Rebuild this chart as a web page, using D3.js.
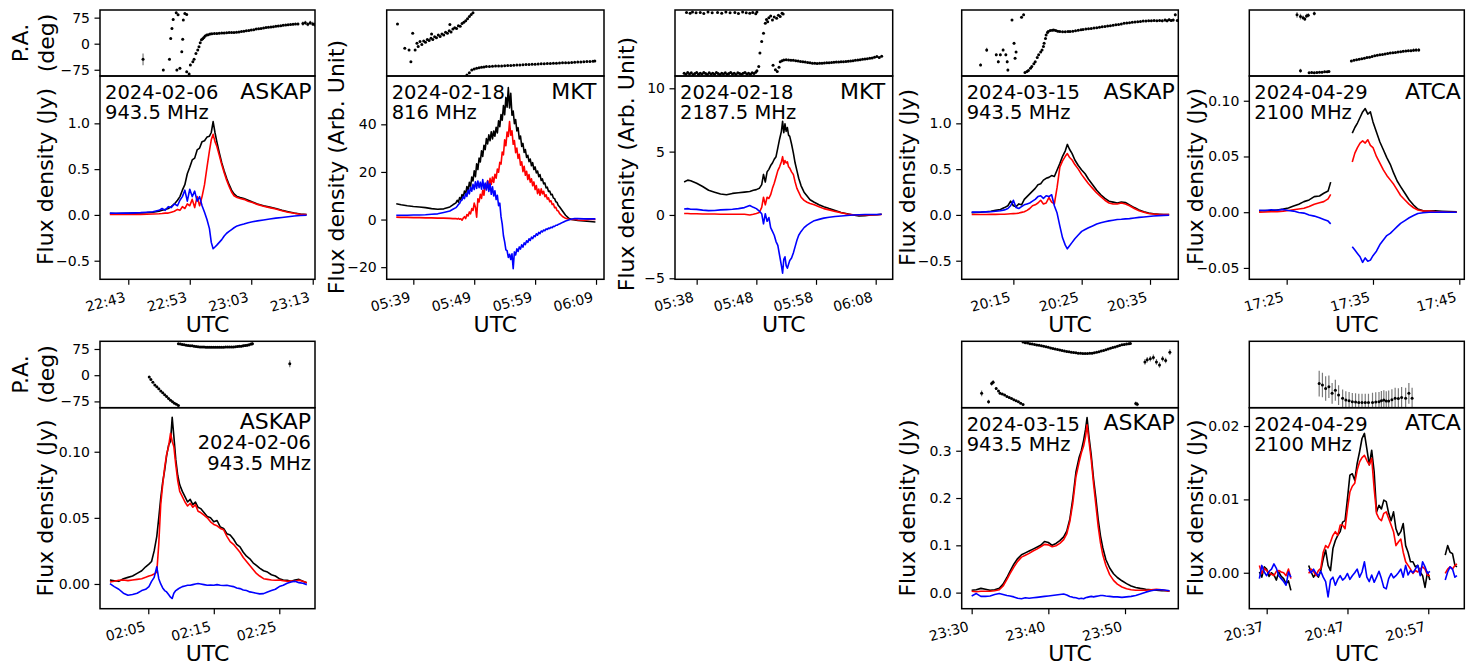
<!DOCTYPE html>
<html><head><meta charset="utf-8">
<script src="https://cdn.jsdelivr.net/npm/d3@7"></script>
<style>
body{margin:0;background:#fff}
svg{display:block}
text{font-family:"DejaVu Sans",sans-serif;fill:#000}
</style>
</head><body>
<svg id="c" width="1466" height="667"></svg>
<script>
// ---------------- DATA ----------------
const telescopes = ["ASKAP","MKT","MKT","ASKAP","ATCA","ASKAP","ASKAP","ATCA"];
const dates = ["2024-02-06","2024-02-18","2024-02-18","2024-03-15","2024-04-29","2024-02-06","2024-03-15","2024-04-29"];
const freqs = ["943.5 MHz","816 MHz","2187.5 MHz","943.5 MHz","2100 MHz","943.5 MHz","943.5 MHz","2100 MHz"];
const yLabels = ["Flux density (Jy)","Flux density (Arb. Unit)","Flux density (Arb. Unit)","Flux density (Jy)","Flux density (Jy)","Flux density (Jy)","Flux density (Jy)","Flux density (Jy)"];

const xTickLabels = [
  ["22:43","22:53","23:03","23:13"],
  ["05:39","05:49","05:59","06:09"],
  ["05:38","05:48","05:58","06:08"],
  ["20:15","20:25","20:35"],
  ["17:25","17:35","17:45"],
  ["02:05","02:15","02:25"],
  ["23:30","23:40","23:50"],
  ["20:37","20:47","20:57"]
];
const yTickValues = [
  [-0.5,0,0.5,1.0],[-20,0,20,40],[-5,0,5,10],[-0.5,0,0.5,1.0],
  [-0.05,0,0.05,0.10],[0,0.05,0.10],[0,0.1,0.2,0.3],[0,0.01,0.02]
];
const yTickLabels = [
  ["\u22120.5","0.0","0.5","1.0"],["\u221220","0","20","40"],["\u22125","0","5","10"],["\u22120.5","0.0","0.5","1.0"],
  ["\u22120.05","0.00","0.05","0.10"],["0.00","0.05","0.10"],["0.0","0.1","0.2","0.3"],["0.00","0.01","0.02"]
];
const paTickValues = [-75,0,75];
const paTickLabels = ["\u221275","0","75"];
const paDomain = [-93,97];
// x domains (minutes since 00:00 UTC) and y domains
const xDomains = [[1358.4,1393.37],[334.63,370.31],[334.37,370.85],[1207.44,1239.14],[1040.67,1065.58],[117.63,150.45],[1408.7,1436.95],[1234.85,1261.46]];
const yDomains = [[-0.703,1.517],[-25.1,60.3],[-5.08,10.97],[-0.703,1.517],[-0.0602,0.1222],[-0.0187,0.1333],[-0.034,0.391],[-0.0049,0.0225]];

// Panel 1: 2024-02-06 ASKAP
const t1 = [1360,1361,1362,1363,1364,1365,1366,1367,1368,1368.5,1369,1369.5,1370,1370.5,1371,1371.4,1371.8,1372.2,1372.6,1373,1373.4,1373.8,1374.2,1374.6,1375,1375.4,1375.8,1376.2,1376.5,1376.8,1377.1,1377.4,1377.8,1378.2,1378.6,1379,1379.4,1379.8,1380.2,1380.7,1381.2,1381.8,1382.5,1383.2,1384,1385,1386,1387,1388,1389,1390,1391,1392];
const I1 = [0.015,0.016,0.015,0.018,0.02,0.022,0.025,0.03,0.04,0.05,0.06,0.07,0.09,0.12,0.16,0.2,0.27,0.33,0.45,0.52,0.6,0.62,0.71,0.73,0.8,0.81,0.85,0.86,0.9,1.02,0.9,0.8,0.68,0.57,0.48,0.4,0.33,0.27,0.23,0.2,0.19,0.18,0.16,0.14,0.12,0.1,0.085,0.07,0.05,0.035,0.02,0.01,0.005];
const L1 = [0.005,0.004,0.005,0.005,0.006,0.006,0.008,0.01,0.012,0.015,0.02,0.02,0.03,0.04,0.06,0.05,0.09,0.07,0.12,0.1,0.17,0.08,0.2,0.1,0.2,0.33,0.52,0.7,0.82,0.88,0.8,0.75,0.65,0.55,0.46,0.38,0.31,0.25,0.21,0.19,0.18,0.17,0.15,0.135,0.115,0.095,0.08,0.065,0.045,0.03,0.018,0.008,0.003];
const V1 = [0.02,0.018,0.02,0.02,0.022,0.025,0.03,0.035,0.05,0.07,0.05,0.09,0.08,0.12,0.1,0.16,0.2,0.27,0.15,0.28,0.2,0.26,0.15,0.2,0.1,0.03,-0.05,-0.15,-0.3,-0.37,-0.35,-0.33,-0.3,-0.27,-0.23,-0.2,-0.18,-0.16,-0.14,-0.12,-0.11,-0.1,-0.085,-0.075,-0.065,-0.055,-0.045,-0.035,-0.028,-0.02,-0.012,-0.007,-0.003];
const pa1 = [[1365.4,-45,17],[1368.7,-76,3],[1369.7,-45,3],[1369.9,15,3],[1370.1,44,3],[1370.3,70,3],[1370.8,89,3],[1370.9,-76,3],[1371.1,83,3],[1371.4,-71,3],[1371.7,-23,3],[1371.85,13,3],[1371.95,68,3],[1372.2,87,3],[1372.5,84,3],[1372.5,-81,3],[1372.9,-87,3],[1373.1,-61,3],[1373.5,-52,3],[1373.7,-45,2],[1374.0,-28,2],[1374.3,-18,2],[1374.5,-9,2],[1374.7,3,2],[1374.9,11,2],[1375.1,14,2],[1375.3,18,2],[1375.5,22,2],[1375.75,25,1],[1376.0,26,1],[1376.3,28,1],[1376.6,28.5,1],[1377.0,29,1],[1377.4,29.5,1],[1377.8,30,1],[1378.2,30.5,1],[1378.6,31,1],[1379.0,31.5,1],[1379.4,32,1],[1379.8,32,1],[1380.2,32.5,1],[1380.6,33,1],[1381.0,34,1],[1381.4,35,1],[1381.8,36,1],[1382.2,37,1],[1382.6,38,1],[1383.0,39.5,1],[1383.4,40.5,1],[1383.8,42,1],[1384.2,43,1],[1384.6,44,1],[1385.0,45.5,1],[1385.4,46.5,1],[1385.8,47.5,1],[1386.2,48,1],[1386.6,49,1],[1387.0,50,2],[1387.4,51,2],[1387.8,52,2],[1388.2,53,2],[1388.6,54,2],[1389.0,54.5,2],[1389.4,55,2],[1389.8,56,3],[1390.2,56.5,3],[1390.6,57,3],[1391.4,58,6],[1391.8,60,6],[1392.2,56,6],[1392.6,60,6],[1393.0,57,6],[1393.3,55,6]];

// Panel 2: 2024-02-18 MKT 816 MHz
const t2 = [336.2,337,338,339,340,341,342,343,344,345,345.5,
 346.0,346.2,346.4,346.6,346.8,347.0,347.2,347.4,347.6,347.8,348.0,348.2,348.4,348.6,348.8,349.0,349.2,349.4,349.6,349.8,350.0,350.2,350.4,350.6,350.8,351.0,351.2,351.4,351.6,351.8,352.0,352.2,352.4,352.6,352.8,353.0,353.2,353.4,353.6,353.8,354.0,354.2,354.4,354.6,354.8,355.0,355.2,355.4,355.6,355.8,356.0,356.2,356.4,356.6,356.8,357.0,357.2,357.4,357.6,357.8,358.0,358.2,358.4,358.6,358.8,359.0,359.2,359.4,359.6,359.8,360.0,360.2,360.4,360.6,360.8,361.0,361.2,361.4,361.6,361.8,362.0,362.2,362.4,362.6,362.8,363.0,
 363.5,364,364.5,365,365.5,366,367,368,368.9];
const I2 = [6.6,6.2,5.8,5.5,5.3,5.0,4.6,4.3,4.5,5.3,6.2,
 7.0,8.1,7.3,9.2,8.4,10.5,9.3,12.0,10.8,13.9,12.1,15.6,13.8,17.9,16.2,20.5,18.0,23.4,21.0,25.8,24.2,28.9,26.5,31.2,29.4,34.0,31.8,35.6,33.1,36.9,33.9,37.2,35.0,38.8,36.4,41.5,39.0,44.1,41.7,47.9,44.0,51.3,47.2,55.5,46.9,53.0,43.8,45.6,40.3,42.0,37.2,38.6,33.9,35.1,30.7,32.0,28.2,29.4,26.1,27.0,24.3,25.4,22.6,23.9,21.0,22.1,19.6,20.4,18.0,18.9,16.4,17.1,15.0,15.4,13.3,13.6,11.8,12.0,10.4,10.6,9.0,8.8,7.5,7.2,5.9,5.4,
 3.6,1.8,0.6,0,-0.2,-0.4,-0.6,-0.8,-1];
const L2 = [1.0,0.9,0.9,0.8,0.8,0.7,0.7,0.6,0.6,0.5,0.4,
 0.4,0.2,0.5,0.1,0.3,-0.3,0.6,1.2,0.4,2.1,1.5,3.2,2.4,4.6,3.8,6.9,5.2,1.0,8.7,7.4,10.6,8.9,12.3,10.2,14.6,12.9,16.4,13.7,17.3,14.8,17.9,15.6,19.0,17.4,21.2,19.9,24.0,23.3,28.4,27.2,33.5,31.0,36.8,34.9,41.2,35.4,37.3,31.6,33.2,28.1,30.0,25.7,27.4,22.8,24.3,20.1,22.4,18.6,20.3,16.8,18.9,15.7,17.1,14.2,15.8,12.6,14.3,10.9,12.8,10.2,12.9,10.8,11.9,9.6,10.4,8.6,9.1,7.5,7.9,6.3,6.6,5.0,5.1,3.8,3.6,2.6,
 1.3,0.5,0.1,0,0.1,-0.2,-0.3,0,0];
const V2 = [1.8,1.8,1.8,1.9,1.9,2.0,2.2,2.4,3.0,3.6,4.3,
 5.0,5.6,6.3,6.8,7.9,8.2,9.6,8.8,10.9,9.7,12.4,10.8,13.6,11.9,14.8,12.6,15.9,13.1,16.2,13.4,15.7,12.8,16.8,12.9,15.3,12.4,16.1,11.8,15.0,10.6,13.8,9.9,12.1,8.4,10.2,5.8,6.9,1.2,-1.9,-6.8,-9.4,-12.7,-13.1,-15.9,-14.6,-16.8,-14.4,-20.6,-13.6,-14.9,-12.3,-13.4,-11.5,-12.4,-10.6,-11.6,-9.8,-10.5,-8.9,-9.6,-8.1,-8.8,-7.4,-8.0,-6.8,-7.2,-6.0,-6.6,-5.4,-5.9,-4.8,-5.2,-4.4,-4.7,-3.9,-4.2,-3.6,-3.8,-3.2,-3.4,-2.8,-2.9,-2.4,-2.4,-2.0,-1.9,
 -1.2,-0.6,-0.2,0.2,0.4,0.4,0.3,0.3,0.3];
const pa2 = [[336.4,57,2],[337.6,-13,2],[338.3,-18,2],[338.6,-52,2],[338.9,30,2],[339.3,-18,2],[339.6,1,2],[339.8,-8,2],[340.1,6,2],[340.4,-2,2],[340.7,8,2],[341.0,4,2],[341.3,12,2],[341.6,9,2],[341.9,16,2],[342.0,28,2],[342.2,12,2],[342.5,20,2],[342.8,17,2],[343.1,25,2],[343.4,21,2],[343.7,28,2],[344.0,25,2],[344.3,33,2],[344.6,30,2],[344.9,37,2],[345.0,55,2],[345.2,34,2],[345.5,42,2],[345.8,46,2],[346.1,44,2],[346.4,52,2],[346.7,50,2],[347.0,58,2],[347.3,62,2],[347.6,66,2],[347.9,72,2],[348.2,78,2],[348.5,84,2],[348.8,89,2],
 [347.8,-90,1],[348.2,-84,1],[348.6,-76,1],[349.0,-73,1],[349.4,-71,1],[349.8,-69,1],[350.2,-68,1],[350.6,-67,1],[351.0,-66,1],[351.5,-65.5,1],[352.0,-65,1],[352.5,-64.5,1],[353.0,-64,1],[353.5,-64,1],[354.0,-63.5,1],[354.5,-63,1],[355.0,-62.5,1],[355.5,-62,1],[356.0,-61.5,1],[356.5,-61,1],[357.0,-60.5,1],[357.5,-60,1],[358.0,-60,1],[358.5,-59.5,1],[359.0,-59,1],[359.5,-58.5,1],[360.0,-58,1],[360.5,-57.5,1],[361.0,-57,1],[361.5,-57,1],[362.0,-56.5,1],[362.5,-56,1],[363.0,-55.5,1],[363.5,-55,1],[364.0,-55,1],[364.5,-54.5,1],[365.0,-54,1],[365.5,-53.5,1],[366.0,-53,1],[366.5,-52.5,1],[367.0,-52,1],[367.5,-51.5,1],[368.0,-51,1],[368.5,-50.5,1],[368.8,-50,1]];

// Panel 3: 2024-02-18 MKT 2187.5 MHz
const t3 = [335.9,336.5,337,338,339,340,341,342,343,344,345,346,346.9,347.5,348,348.5,348.9,349.2,349.5,349.8,350.1,350.4,350.7,351.0,351.3,351.6,351.9,352.2,352.4,352.6,352.8,353.0,353.2,353.4,353.6,353.9,354.2,354.5,354.8,355.1,355.5,356,356.5,357,357.7,358.5,359.3,360.2,361.2,362.2,363.2,364.2,365.2,366.2,367.2,368.2,369];
const I3 = [2.6,2.75,2.7,2.5,2.25,1.95,1.8,1.65,1.6,1.7,1.75,1.8,1.85,1.95,2.0,2.1,2.4,3.2,2.6,3.4,3.6,3.9,4.1,4.4,4.6,5.3,6.0,6.6,7.4,6.5,7.2,6.6,6.9,6.3,6.2,5.6,4.9,4.1,3.5,2.9,2.3,1.8,1.5,1.2,1.0,0.8,0.65,0.5,0.35,0.2,0.1,0,-0.08,-0.05,0,0.02,0.05];
const L3 = [0.12,0.12,0.1,0.1,0.08,0.08,0.07,0.06,0.05,0.05,0.05,0.06,0.0,0.05,0.12,0.2,0.6,1.4,0.8,1.4,1.3,1.6,2.1,2.5,3.0,3.5,3.8,4.2,4.6,4.0,4.3,4.1,4.2,3.8,3.7,3.4,3.2,2.6,2.1,1.8,1.4,1.15,1.0,0.9,0.8,0.65,0.5,0.4,0.28,0.18,0.08,0.02,0,0,0,0.02,0.03];
const V3 = [0.47,0.5,0.45,0.44,0.38,0.34,0.35,0.4,0.42,0.45,0.5,0.58,0.75,0.6,0.5,0.3,0.1,-0.7,0.1,-0.5,-0.2,-1.0,-1.3,-1.6,-2.1,-2.4,-3.2,-4.0,-4.6,-3.5,-3.3,-4.0,-4.2,-3.9,-3.6,-3.4,-3.0,-2.5,-2.0,-1.6,-1.3,-1.0,-0.8,-0.65,-0.45,-0.35,-0.25,-0.18,-0.12,-0.08,-0.04,0,0.02,0.03,0.03,0.04,0.05];
const pa3 = [[336.3,90,1],[336.9,88,1],[337.3,91,1],[337.9,89,1],[338.6,90,1],[339.2,87,1],[339.9,91,1],[340.6,89,1],[341.5,90,1],[342.2,88,1],[342.9,91,1],[343.6,89,1],[344.4,90,1],[345.0,87,1],[345.7,91,1],[346.3,89,1],[346.9,88,1],[347.4,90,1],[347.9,86,1],[348.1,91,1],
 [335.9,-85,1],[336.2,-88,1],[336.5,-83,1],[336.8,-87,1],[337.1,-84,1],[337.4,-89,1],[337.7,-86,1],[338.0,-83,1],[338.3,-88,1],[338.6,-85,1],[338.9,-87,1],[339.2,-83,1],[339.5,-86,1],[339.8,-89,1],[340.1,-84,1],[340.4,-87,1],[340.7,-85,1],[341.0,-88,1],[341.3,-83,1],[341.6,-86,1],[341.9,-89,1],[342.2,-85,1],[342.5,-87,1],[342.8,-84,1],[343.1,-88,1],[343.4,-86,1],[343.7,-83,1],[344.0,-87,1],[344.3,-85,1],[344.6,-89,1],[344.9,-84,1],[345.2,-86,1],[345.5,-88,1],[345.8,-85,1],[346.1,-83,1],[346.4,-87,1],[346.7,-85,1],[347.0,-88,1],[347.3,-84,1],[347.6,-86,1],[347.9,-82,1],[348.1,-78,1],
 [348.4,-66,1],[348.6,-27,1],[348.9,6,1],[349.2,30,1],[349.5,59,1],[349.7,70,1],[349.9,63,1],[350.1,75,1],[350.4,80,1],[350.7,68,1],[351.0,77,1],[351.4,73,1],[351.7,82,1],[352.0,78,1],[352.3,88,1],[352.5,85.5,1],
 [350.8,-62,1],[351.2,-75,1],[351.5,-80,1],[351.8,-68,1],
 [352.0,-52,1],[352.3,-49,1],[352.6,-47,1],[353.0,-46,1],[353.4,-47,1],[353.8,-48,1],[354.2,-48,1],[354.6,-49,1],[355.0,-50,1],[355.4,-51,1],[355.8,-52,1],[356.2,-53,1],[356.6,-54,1],[357.0,-55,1],[357.4,-56,1],[357.8,-56.5,1],[358.2,-57,1],[358.6,-56.5,1],[359.0,-56,1],[359.4,-55.5,1],[359.8,-55,1],[360.2,-54.5,1],[360.6,-54,1],[361.0,-53.5,1],[361.4,-53,1],[361.8,-52.5,1],[362.2,-52,1],[362.6,-52,1],[363.0,-51,1],[363.4,-50.5,1],[363.8,-50,1],[364.2,-49,1],[364.6,-48,1],[365.0,-47,1],[365.4,-46,1],[365.8,-45,1],[366.2,-44,1],[366.6,-43,1],[367.0,-42,1],[367.4,-41,1],[367.8,-39,1],[368.2,-37,1],[368.6,-40,1],[369.0,-36,1]];

// Panel 4: 2024-03-15 ASKAP
const t4 = [1208.9,1209.5,1210.2,1211,1211.7,1212.4,1213.1,1213.7,1214.2,1214.6,1215.0,1215.4,1215.8,1216.2,1216.6,1217.0,1217.4,1217.8,1218.2,1218.6,1219.0,1219.4,1219.8,1220.2,1220.6,1221.0,1221.4,1221.8,1222.2,1222.6,1222.9,1223.2,1223.6,1224.0,1224.5,1225.0,1225.5,1226.0,1226.6,1227.2,1227.8,1228.4,1229.0,1229.6,1230.2,1230.8,1231.4,1232.0,1232.7,1233.4,1234.1,1234.8,1235.5,1236.3,1237.0,1237.8];
const I4 = [0.025,0.027,0.03,0.035,0.04,0.05,0.06,0.08,0.1,0.15,0.1,0.09,0.12,0.11,0.17,0.2,0.23,0.26,0.29,0.33,0.34,0.38,0.4,0.41,0.43,0.42,0.49,0.56,0.64,0.7,0.77,0.72,0.67,0.6,0.54,0.49,0.45,0.39,0.33,0.27,0.22,0.18,0.15,0.14,0.13,0.14,0.135,0.11,0.08,0.055,0.035,0.02,0.012,0.008,0.005,0.004];
const L4 = [0.004,0.004,0.005,0.005,0.006,0.006,0.007,0.008,0.01,0.012,0.014,0.016,0.02,0.028,0.035,0.05,0.07,0.1,0.11,0.13,0.16,0.12,0.13,0.19,0.14,0.12,0.3,0.52,0.59,0.64,0.67,0.63,0.6,0.55,0.5,0.44,0.39,0.34,0.29,0.24,0.2,0.16,0.13,0.12,0.12,0.13,0.12,0.1,0.07,0.045,0.03,0.016,0.01,0.006,0.004,0.004];
const V4 = [0.03,0.03,0.032,0.033,0.035,0.04,0.045,0.055,0.07,0.1,0.16,0.08,0.07,0.09,0.11,0.12,0.13,0.15,0.17,0.2,0.21,0.18,0.21,0.2,0.22,0.1,0.02,-0.12,-0.25,-0.33,-0.37,-0.34,-0.3,-0.26,-0.22,-0.18,-0.16,-0.14,-0.12,-0.1,-0.085,-0.075,-0.065,-0.058,-0.05,-0.047,-0.043,-0.04,-0.033,-0.027,-0.022,-0.017,-0.012,-0.008,-0.005,-0.004];
const pa4 = [[1210.2,-61,4],[1211.1,-18,6],[1212.5,-32,4],[1212.8,-52,4],[1213.1,-32,4],[1213.5,-18,4],[1213.9,-32,4],[1214.1,-52,4],[1214.2,-76,4],[1214.8,68,3],[1215.1,1,4],[1215.25,-42,3],[1215.4,-24,3],[1216.2,76,3],[1216.5,83,3],[1216.7,-83,2],[1217.0,-80,2],[1217.2,-77,2],[1217.5,-71,2],[1217.7,-66,2],[1218.0,-58,2],[1218.2,-52,2],[1218.5,-40,2],[1218.7,-32,2],[1219.0,-24,2],[1219.2,-18,2],[1219.4,-8,2],[1219.5,1,2],[1219.7,15,2],[1219.8,25,1],[1220.0,32,1],[1220.1,35,1],[1220.4,38,1],[1220.7,39,1],[1220.9,39.4,1],[1221.2,38,1],[1221.5,36,1],[1221.8,35,1],[1222.2,34.5,1],[1222.6,34.5,1],[1223.0,35,1],[1223.3,35,1],[1223.7,36,1],[1224.1,37,1],[1224.5,38.5,1],[1224.9,40,1],[1225.2,41,1],[1225.6,42,1],[1226.0,43,1],[1226.4,44,1],[1226.8,45,1],[1227.2,46,1],[1227.6,47,1],[1228.0,48.5,1],[1228.4,49.5,1],[1228.8,51,1],[1229.2,52,1],[1229.6,53,1],[1230.0,54.5,1],[1230.4,55.5,1],[1230.8,57,1],[1231.2,58.5,1],[1231.6,59.5,1],[1232.0,60.5,1],[1232.4,61.5,1],[1232.8,62.5,1],[1233.2,63,1],[1233.6,64,1],[1234.0,65,2],[1234.4,65.5,2],[1234.8,66,2],[1235.2,66,2],[1235.6,66.5,2],[1236.0,66,2],[1236.4,67,3],[1236.8,66,4],[1237.2,68,4],[1237.5,66,4],[1237.8,69,4],[1238.1,67,4],[1238.4,68,4],[1238.7,83,4],[1239.0,67,4]];

// Panel 5: 2024-04-29 ATCA (gap = null)
const t5 = [1041.8,1042.5,1043.2,1043.9,1044.6,1045.2,1045.8,1046.4,1047.0,1047.6,1048.2,1048.8,1049.3,1049.8,1050.1,1051.5,1052.6,1052.9,1053.2,1053.5,1053.8,1054.1,1054.4,1054.7,1055.0,1055.4,1055.8,1056.2,1056.6,1057.0,1057.4,1057.8,1058.2,1058.7,1059.2,1059.7,1060.2,1060.8,1061.5,1062.2,1063,1063.8,1064.7];
const I5 = [0.0012,0.0015,0.0013,0.002,0.0028,0.0038,0.0055,0.0072,0.0095,0.011,0.014,0.0145,0.017,0.019,0.027,null,0.071,0.076,0.08,0.085,0.09,0.093,0.088,0.09,0.081,0.072,0.063,0.056,0.049,0.043,0.035,0.028,0.023,0.017,0.011,0.0065,0.0028,0.0012,0.001,0.0012,0.0008,0.0005,0.0003];
const L5 = [0,0.0002,0.0004,0.0005,0.001,0.0016,0.0022,0.0028,0.0035,0.0052,0.0072,0.0085,0.0095,0.012,0.016,null,0.045,0.053,0.058,0.062,0.064,0.062,0.065,0.06,0.058,0.05,0.044,0.038,0.033,0.029,0.025,0.02,0.015,0.011,0.007,0.004,0.002,0.0012,0.001,0.0005,0.0003,0,0];
const V5 = [0.0018,0.0015,0.0022,0.0018,0.0025,0.0015,0.001,-0.0002,-0.0008,-0.0025,-0.0035,-0.005,-0.0065,-0.008,-0.0105,null,-0.031,-0.034,-0.037,-0.04,-0.045,-0.041,-0.044,-0.043,-0.039,-0.035,-0.029,-0.025,-0.021,-0.019,-0.016,-0.013,-0.01,-0.0075,-0.005,-0.003,-0.0012,-0.0005,0,0,0.0002,0,0];
const pa5 = [[1046.2,83,8],[1046.6,78,8],[1046.9,75,6],[1047.1,71,6],[1047.3,80,6],[1047.5,82,6],[1048.2,87,6],[1046.6,-78,6],[1047.6,-84,3],[1047.9,-83,3],[1048.2,-84,3],[1048.5,-83,3],[1048.8,-82,3],[1049.1,-82,3],[1049.4,-81,3],[1049.7,-81,3],[1049.9,-80,3],
 [1052.5,-50,2],[1052.8,-48,2],[1053.1,-46,2],[1053.4,-45,2],[1053.7,-43,2],[1054.0,-42,2],[1054.3,-40,2],[1054.6,-39,2],[1054.9,-37,2],[1055.2,-35,2],[1055.5,-33,2],[1055.8,-32,2],[1056.1,-31,2],[1056.4,-29.5,2],[1056.7,-28.5,2],[1057.0,-27,2],[1057.3,-26,2],[1057.6,-25,2],[1057.9,-24,2],[1058.2,-23,2],[1058.5,-22,3],[1058.8,-21,3],[1059.1,-20.5,3],[1059.4,-20,4],[1059.7,-19,5],[1060.0,-18.5,5],[1060.3,-18,5]];

// Panel 6: 2024-02-06 ASKAP (second burst)
const t6 = [119.15,119.8,120.5,121.2,121.9,122.6,123.3,124.0,124.6,125.1,125.5,125.9,126.3,126.6,126.9,127.2,127.5,127.8,128.1,128.4,128.65,128.9,129.2,129.5,129.8,130.2,130.6,131.0,131.4,131.8,132.2,132.6,133.0,133.5,134.0,134.5,135.0,135.5,136.0,136.5,137.0,137.5,138.0,138.5,139.0,139.5,140.0,140.5,141.0,141.5,142.0,142.6,143.2,143.8,144.4,145.0,145.6,146.2,146.8,147.4,148.0,148.6,149.2];
const I6 = [0.003,0.0025,0.002,0.004,0.005,0.006,0.008,0.01,0.013,0.015,0.017,0.025,0.036,0.05,0.065,0.077,0.086,0.097,0.105,0.108,0.126,0.112,0.094,0.082,0.075,0.07,0.066,0.062,0.064,0.06,0.062,0.058,0.057,0.054,0.051,0.05,0.047,0.048,0.043,0.042,0.038,0.037,0.034,0.03,0.028,0.024,0.021,0.019,0.016,0.014,0.012,0.01,0.009,0.007,0.006,0.004,0.003,0.0028,0.002,0.003,0.0035,0.002,0.001];
const L6 = [0.0015,0.002,0.0028,0.003,0.0025,0.003,0.0035,0.004,0.005,0.006,0.0066,0.0075,0.009,0.03,0.06,0.075,0.088,0.098,0.104,0.114,0.108,0.104,0.09,0.078,0.07,0.066,0.062,0.059,0.061,0.058,0.06,0.055,0.054,0.052,0.05,0.047,0.045,0.044,0.042,0.041,0.036,0.032,0.03,0.027,0.024,0.02,0.017,0.014,0.011,0.008,0.006,0.004,0.0035,0.003,0.0028,0.003,0.0025,0.002,0.0022,0.002,0.0028,0.002,0.001];
const V6 = [0.0003,-0.002,-0.004,-0.007,-0.0085,-0.008,-0.007,-0.005,-0.004,-0.002,0.002,0.005,0.013,0.004,0.0,-0.003,-0.005,-0.006,-0.008,-0.01,-0.011,-0.007,-0.005,-0.004,-0.003,-0.002,-0.0015,-0.001,-0.001,-0.0005,0,0.0003,0,-0.0005,-0.001,-0.0008,-0.001,-0.0005,-0.001,-0.0012,-0.001,-0.0015,-0.002,-0.003,-0.0035,-0.0045,-0.005,-0.006,-0.0065,-0.007,-0.0075,-0.0073,-0.006,-0.005,-0.004,-0.002,-0.001,0.0005,0.0015,0.002,0.001,0.0005,-0.0005];
const pa6 = [[125.15,-5,3],[125.4,-12,2],[125.7,-20,2],[126.0,-28,2],[126.3,-33,1],[126.6,-39,1],[126.9,-45,1],[127.2,-50,1],[127.5,-56,1],[127.8,-61,1],[128.1,-67,1],[128.4,-72,1],[128.7,-76,1],[129.0,-80,1],[129.3,-83,1],[129.6,-87,1],
 [129.6,90,1],[129.9,89,1],[130.2,88,1],[130.5,87,1],[130.8,86,1],[131.1,85,1],[131.4,84.5,1],[131.7,84,1],[132.0,83,1],[132.3,82,1],[132.6,81.5,1],[132.9,81,1],[133.2,80.5,1],[133.5,80.5,1],[133.8,80,1],[134.1,80,1],[134.4,80,1],[134.7,80,1],[135.0,80,1],[135.3,80,1],[135.6,80,1],[135.9,80,1],[136.2,80,1],[136.5,80,1],[136.8,80.5,1],[137.1,80.5,1],[137.4,80.5,1],[137.7,81,1],[138.0,81,2],[138.3,81.5,2],[138.6,82,2],[138.9,82.5,3],[139.2,83,3],[139.5,84,4],[139.8,85,4],[140.1,86,4],[140.4,87,4],[140.7,89,4],[140.9,90,4],
 [146.6,33,10]];

// Panel 7: 2024-03-15 ASKAP (second burst)
const t7 = [1410.0,1410.6,1411.2,1411.8,1412.4,1413.0,1413.6,1414.1,1414.6,1415.0,1415.5,1416.0,1416.5,1417.0,1417.5,1418.0,1418.5,1419.0,1419.5,1420.0,1420.5,1421.0,1421.5,1422.0,1422.4,1422.8,1423.2,1423.6,1424.0,1424.3,1424.6,1424.85,1425.05,1425.3,1425.6,1425.9,1426.2,1426.5,1426.8,1427.1,1427.5,1428.0,1428.5,1429.0,1429.6,1430.2,1430.8,1431.4,1432.0,1432.7,1433.4,1434.1,1434.8,1435.4,1435.8];
const I7 = [0.005,0.006,0.009,0.007,0.005,0.006,0.009,0.018,0.032,0.045,0.06,0.072,0.08,0.084,0.088,0.092,0.096,0.1,0.108,0.106,0.1,0.104,0.11,0.118,0.13,0.155,0.2,0.255,0.285,0.3,0.322,0.345,0.37,0.33,0.29,0.24,0.2,0.155,0.12,0.095,0.07,0.052,0.04,0.032,0.025,0.019,0.014,0.011,0.009,0.007,0.006,0.005,0.004,0.004,0.003];
const L7 = [0.003,0.002,0.003,0.003,0.003,0.004,0.006,0.014,0.028,0.04,0.054,0.066,0.075,0.079,0.083,0.088,0.092,0.097,0.102,0.101,0.097,0.099,0.104,0.112,0.124,0.15,0.19,0.245,0.275,0.295,0.31,0.33,0.355,0.32,0.28,0.23,0.185,0.14,0.105,0.08,0.058,0.038,0.026,0.018,0.012,0.008,0.006,0.005,0.005,0.005,0.006,0.007,0.006,0.004,0.003];
const V7 = [-0.007,-0.002,-0.008,-0.008,-0.007,-0.004,-0.002,-0.004,-0.006,-0.007,-0.009,-0.012,-0.013,-0.011,-0.012,-0.011,-0.01,-0.009,-0.008,-0.007,-0.006,-0.005,-0.004,-0.003,-0.005,-0.008,-0.01,-0.011,-0.013,-0.012,-0.013,-0.011,-0.01,-0.009,-0.008,-0.009,-0.008,-0.007,-0.006,-0.006,-0.007,-0.008,-0.009,-0.009,-0.01,-0.009,-0.008,-0.006,-0.003,0.001,0.004,0.006,0.006,0.005,0.004];
const pa7 = [[1411.3,-52,8],[1412.2,-76,6],[1412.6,-24,6],[1412.8,-20,6],[1413.2,-38,4],[1413.5,-45,3],[1413.7,-52,3],
 [1414.0,-54,1],[1414.3,-57,1],[1414.6,-61,1],[1414.9,-64,1],[1415.2,-67,1],[1415.5,-70,1],[1415.8,-73,1],[1416.1,-76,1],[1416.4,-80,1],[1416.7,-84,1],
 [1416.7,95,1],[1417.0,93,1],[1417.3,92,1],[1417.6,90,1],[1417.9,89,1],[1418.2,88,1],[1418.5,86.5,1],[1418.8,85.5,1],[1419.1,84.5,1],[1419.4,83,1],[1419.7,81.5,1],[1420.0,80,1],[1420.3,78,1],[1420.6,76.5,1],[1420.9,75,1],[1421.2,73.5,1],[1421.5,72,1],[1421.8,71,1],[1422.1,69.5,1],[1422.4,68,1],[1422.7,67,1],[1423.0,66,1],[1423.3,65,1],[1423.6,64,1],[1423.9,63,1],[1424.2,62.5,1],[1424.5,62,1],[1424.8,62,1],[1425.1,62,1],[1425.4,62.5,1],[1425.7,63,1],[1426.0,64,1],[1426.3,65.5,1],[1426.6,67,1],[1426.9,69,1],[1427.2,71,1],[1427.5,73,1],[1427.8,75,1],[1428.1,77,1],[1428.4,79,1],[1428.7,81,2],[1429.0,83,2],[1429.3,85,2],[1429.6,87,2],[1429.9,88,3],[1430.2,89,3],[1430.5,90,3],[1430.7,91,3],
 [1431.4,-81,6],[1431.6,-83,6],[1432.6,38,8],[1432.9,44,8],[1433.3,47,8],[1433.7,51,8],[1434.1,38,8],[1434.5,29,8],[1434.9,47,8],[1435.3,42,8],[1435.85,66,8]];

// Panel 8: 2024-04-29 ATCA (second burst; gaps = null)
const t8 = [1236.1,1236.4,1236.7,1237.0,1237.3,1237.6,1237.9,1238.2,1238.5,1238.8,1239.1,1239.4,1239.7,1240.0,1241,
 1242.2,1242.5,1242.8,1243.1,1243.4,1243.7,1244.0,1244.3,1244.6,1244.9,1245.2,1245.5,1245.8,1246.1,1246.4,1246.7,1247.0,1247.3,1247.6,1247.9,1248.2,1248.5,1248.8,1249.1,1249.4,1249.7,1250.0,1250.3,1250.6,1250.9,1251.2,1251.5,1251.8,1252.1,1252.4,1252.7,1253.0,1253.3,1253.6,1253.9,1254.2,1254.5,1254.8,1255.1,1255.4,1255.7,1256.0,1256.3,1256.6,1256.9,1257.2,1258,
 1259.1,1259.4,1259.7,1260.0,1260.3,1260.55];
const I8 = [0.0001,-0.0006,0.0008,0.0005,-0.0005,0.0000,-0.0003,-0.001,0.0001,-0.0005,-0.0008,-0.0015,-0.0011,-0.0024,null,
 0.0010,0.0001,-0.0006,-0.0001,-0.0006,0.0003,0.0019,0.0031,0.0010,0.0003,0.0033,0.0044,0.0051,0.0056,0.0069,0.0071,0.0101,0.0133,0.0135,0.0126,0.0149,0.0165,0.0183,0.0190,0.0169,0.0147,0.0167,0.0138,0.0083,0.0092,0.0087,0.0099,0.0097,0.0081,0.0071,0.0083,0.0060,0.0051,0.0056,0.0067,0.0037,0.0028,0.0015,0.0015,0.0008,0.0010,0.0001,-0.0004,-0.0020,0.0001,-0.0010,null,
 0.0024,0.0037,0.0028,0.0026,0.0010,0.0008];
const L8 = [0.0010,-0.0001,0.0006,0.0003,0.0000,-0.0002,-0.0004,0.0002,0.0003,0.0001,0.0000,-0.0004,0.0005,-0.0008,null,
 -0.0001,0.0005,0.0002,-0.0004,0.0003,0.0006,0.0028,0.0037,0.0034,0.0042,0.0051,0.0056,0.0051,0.0065,0.0065,0.0060,0.0087,0.0110,0.0118,0.0122,0.0140,0.0151,0.0157,0.0160,0.0153,0.0147,0.0156,0.0115,0.0081,0.0074,0.0071,0.0081,0.0083,0.0074,0.0065,0.0056,0.0037,0.0042,0.0046,0.0028,0.0015,0.0010,0.0005,-0.0001,0.0003,0.0001,0.0005,0.0008,0.0005,-0.0003,-0.0004,null,
 -0.0001,0.0005,0.0008,0.0005,0.0010,0.0012];
const V8 = [-0.0008,0.0010,0.0001,-0.0004,0.0002,0.0005,0.0012,0.0006,-0.0004,-0.0008,-0.0012,-0.0017,0.0001,-0.0006,null,
 0.0005,0,0.0005,-0.0001,-0.0004,0.0002,-0.0006,-0.0012,-0.0033,-0.0010,-0.0006,-0.0017,-0.0009,-0.0004,-0.0010,-0.0007,-0.0001,-0.0009,-0.0004,0,0.0005,-0.0006,0.0001,0.0015,-0.0006,-0.0012,-0.0003,-0.0013,-0.0006,0.0002,-0.0008,-0.0020,-0.0022,-0.0008,-0.0001,-0.0007,-0.0004,0,0.0005,-0.0006,0.0010,-0.0003,0.0003,0,0.0005,0.0010,-0.0004,0.0015,0.0008,-0.0001,0.0002,null,
 -0.0010,0.0001,0.0008,0.0005,-0.0006,-0.0004];
const pa8 = [[1243.5,-24,37],[1243.9,-28,35],[1244.3,-38,35],[1244.7,-33,32],[1245.1,-52,30],[1245.5,-43,30],[1245.9,-57,28],[1246.4,-66,25],[1246.8,-71,25],[1247.2,-73,25],[1247.6,-76,25],[1248.0,-77,25],[1248.4,-78,25],[1248.8,-78,25],[1249.2,-78,25],[1249.6,-78,25],[1250.1,-78,28],[1250.5,-77,28],[1250.9,-76,28],[1251.2,-73,28],[1251.5,-71,28],[1251.8,-74,28],[1252.1,-74,30],[1252.5,-70,30],[1252.9,-66,30],[1253.3,-67,30],[1253.7,-64,30],[1254.2,-66,30],[1254.6,-52,30],[1255.0,-66,30]];

const series = [
  {t:t1,I:I1,L:L1,V:V1,pa:pa1},{t:t2,I:I2,L:L2,V:V2,pa:pa2},{t:t3,I:I3,L:L3,V:V3,pa:pa3},{t:t4,I:I4,L:L4,V:V4,pa:pa4},
  {t:t5,I:I5,L:L5,V:V5,pa:pa5},{t:t6,I:I6,L:L6,V:V6,pa:pa6},{t:t7,I:I7,L:L7,V:V7,pa:pa7},{t:t8,I:I8,L:L8,V:V8,pa:pa8}
];

// ---------------- LAYOUT ----------------
const layout = [
  {L:100,R:315,paT:10,T:76,B:279.3,ylx:52.5,yly:176.5,paLab:true,ann:"split",teleDx:3.5},
  {L:386.7,R:604,paT:10,T:76,B:279.3,ylx:343.5,yly:167,paLab:false,ann:"split",teleDx:7.5},
  {L:675,R:892.7,paT:10,T:76,B:279.3,ylx:633.5,yly:164,paLab:false,ann:"split",teleDx:7.5},
  {L:961.7,R:1178.3,paT:10,T:76,B:279.3,ylx:914.5,yly:177.5,paLab:false,ann:"split",teleDx:3.5},
  {L:1249.3,R:1464.3,paT:10,T:76,B:279.3,ylx:1202.5,yly:176.5,paLab:false,ann:"split",teleDx:3.5},
  {L:100,R:315,paT:341.3,T:407.7,B:608.7,ylx:52.5,yly:508,paLab:true,ann:"stack",teleDx:4},
  {L:961.7,R:1178.3,paT:341.3,T:407.7,B:608.7,ylx:914.5,yly:508,paLab:false,ann:"split",teleDx:3.5},
  {L:1249.3,R:1464.3,paT:341.3,T:407.7,B:608.7,ylx:1202.5,yly:508,paLab:false,ann:"split",teleDx:3.5}
];

const svg = d3.select("#c");
const defs = svg.append("defs");
const TICKFS = 14, LABFS = 22, DATEFS = 19.5, TELEFS = 22;
const toMin = s => { const [h,m] = s.split(":").map(Number); return h*60+m; };

layout.forEach((p,k) => {
  const s = series[k];
  const x = d3.scaleLinear().domain(xDomains[k]).range([p.L,p.R]);
  const y = d3.scaleLinear().domain(yDomains[k]).range([p.B,p.T]);
  const yp = d3.scaleLinear().domain(paDomain).range([p.T,p.paT]);
  const g = svg.append("g");

  defs.append("clipPath").attr("id","cm"+k).append("rect")
    .attr("x",p.L).attr("y",p.T).attr("width",p.R-p.L).attr("height",p.B-p.T);
  defs.append("clipPath").attr("id","cp"+k).append("rect")
    .attr("x",p.L).attr("y",p.paT).attr("width",p.R-p.L).attr("height",p.T-p.paT);

  // flux curves: I (black), L (red), V (blue)
  const rows = s.t.map((t,i) => ({t, I:s.I[i], L:s.L[i], V:s.V[i]}));
  const cg = g.append("g").attr("clip-path",`url(#cm${k})`);
  [["I","#000000"],["L","#ff0000"],["V","#0000ff"]].forEach(([key,col]) => {
    const line = d3.line().defined(d => d[key] != null).x(d => x(d.t)).y(d => y(d[key]));
    cg.append("path").attr("d", line(rows)).attr("fill","none")
      .attr("stroke",col).attr("stroke-width",1.6).attr("stroke-linejoin","round");
  });

  // PA points with error bars
  const pg = g.append("g").attr("clip-path",`url(#cp${k})`);
  pg.selectAll("line.eb").data(s.pa).join("line").attr("class","eb")
    .attr("x1",d=>x(d[0])).attr("x2",d=>x(d[0]))
    .attr("y1",d=>yp(d[1]-d[2])).attr("y2",d=>yp(d[1]+d[2]))
    .attr("stroke","#7a7a7a").attr("stroke-width",1.2);
  pg.selectAll("circle").data(s.pa).join("circle")
    .attr("cx",d=>x(d[0])).attr("cy",d=>yp(d[1])).attr("r",1.5).attr("fill","#000");

  // frames
  g.append("rect").attr("x",p.L).attr("y",p.paT).attr("width",p.R-p.L).attr("height",p.T-p.paT)
    .attr("fill","none").attr("stroke","#000").attr("stroke-width",1.5);
  g.append("rect").attr("x",p.L).attr("y",p.T).attr("width",p.R-p.L).attr("height",p.B-p.T)
    .attr("fill","none").attr("stroke","#000").attr("stroke-width",1.5);

  // x axis
  const xl = xTickLabels[k];
  const xa = g.append("g").attr("transform",`translate(0,${p.B})`)
    .call(d3.axisBottom(x).tickValues(xl.map(toMin)).tickFormat((d,i)=>xl[i]).tickSize(5.5).tickSizeOuter(0));
  xa.select(".domain").remove();
  xa.selectAll(".tick line").attr("stroke","#000").attr("stroke-width",1.2);
  xa.selectAll(".tick text").attr("font-size",TICKFS).attr("font-family","DejaVu Sans")
    .attr("text-anchor","end").attr("y",null).attr("dy",null).attr("x",null)
    .attr("transform","translate(-2.5,22) rotate(-15)");

  // y axis
  const yl = yTickLabels[k];
  const ya = g.append("g").attr("transform",`translate(${p.L},0)`)
    .call(d3.axisLeft(y).tickValues(yTickValues[k]).tickFormat((d,i)=>yl[i]).tickSize(5.5).tickPadding(4.5).tickSizeOuter(0));
  ya.select(".domain").remove();
  ya.selectAll(".tick line").attr("stroke","#000").attr("stroke-width",1.2);
  ya.selectAll(".tick text").attr("font-size",TICKFS).attr("font-family","DejaVu Sans");

  // PA axis ticks + label
  if (p.paLab) {
    const pa = g.append("g").attr("transform",`translate(${p.L},0)`)
      .call(d3.axisLeft(yp).tickValues(paTickValues).tickFormat((d,i)=>paTickLabels[i]).tickSize(5.5).tickPadding(4.5).tickSizeOuter(0));
    pa.select(".domain").remove();
    pa.selectAll(".tick line").attr("stroke","#000").attr("stroke-width",1.2);
    pa.selectAll(".tick text").attr("font-size",TICKFS).attr("font-family","DejaVu Sans");
    const cy = (p.paT + p.T)/2;
    g.append("text").attr("transform",`translate(28,${cy}) rotate(-90)`).attr("text-anchor","middle")
      .attr("font-size",LABFS).text("P.A.");
    g.append("text").attr("transform",`translate(53.5,${cy}) rotate(-90)`).attr("text-anchor","middle")
      .attr("font-size",LABFS).text("(deg)");
  }

  // y label
  g.append("text").attr("transform",`translate(${p.ylx},${p.yly}) rotate(-90)`).attr("text-anchor","middle")
    .attr("font-size",LABFS).text(yLabels[k]);
  // x label
  g.append("text").attr("x",(p.L+p.R)/2).attr("y",p.B+52.5).attr("text-anchor","middle")
    .attr("font-size",LABFS).text("UTC");

  // annotations
  if (p.ann === "split") {
    g.append("text").attr("x",p.L+5).attr("y",p.T+23).attr("font-size",DATEFS).text(dates[k]);
    g.append("text").attr("x",p.L+5).attr("y",p.T+43).attr("font-size",DATEFS).text(freqs[k]);
    g.append("text").attr("x",p.R-p.teleDx).attr("y",p.T+22.7).attr("text-anchor","end").attr("font-size",TELEFS).text(telescopes[k]);
  } else {
    g.append("text").attr("x",p.R-p.teleDx).attr("y",p.T+21).attr("text-anchor","end").attr("font-size",TELEFS).text(telescopes[k]);
    g.append("text").attr("x",p.R-p.teleDx).attr("y",p.T+41.5).attr("text-anchor","end").attr("font-size",DATEFS).text(dates[k]);
    g.append("text").attr("x",p.R-p.teleDx).attr("y",p.T+62.5).attr("text-anchor","end").attr("font-size",DATEFS).text(freqs[k]);
  }
});
</script>
</body></html>
